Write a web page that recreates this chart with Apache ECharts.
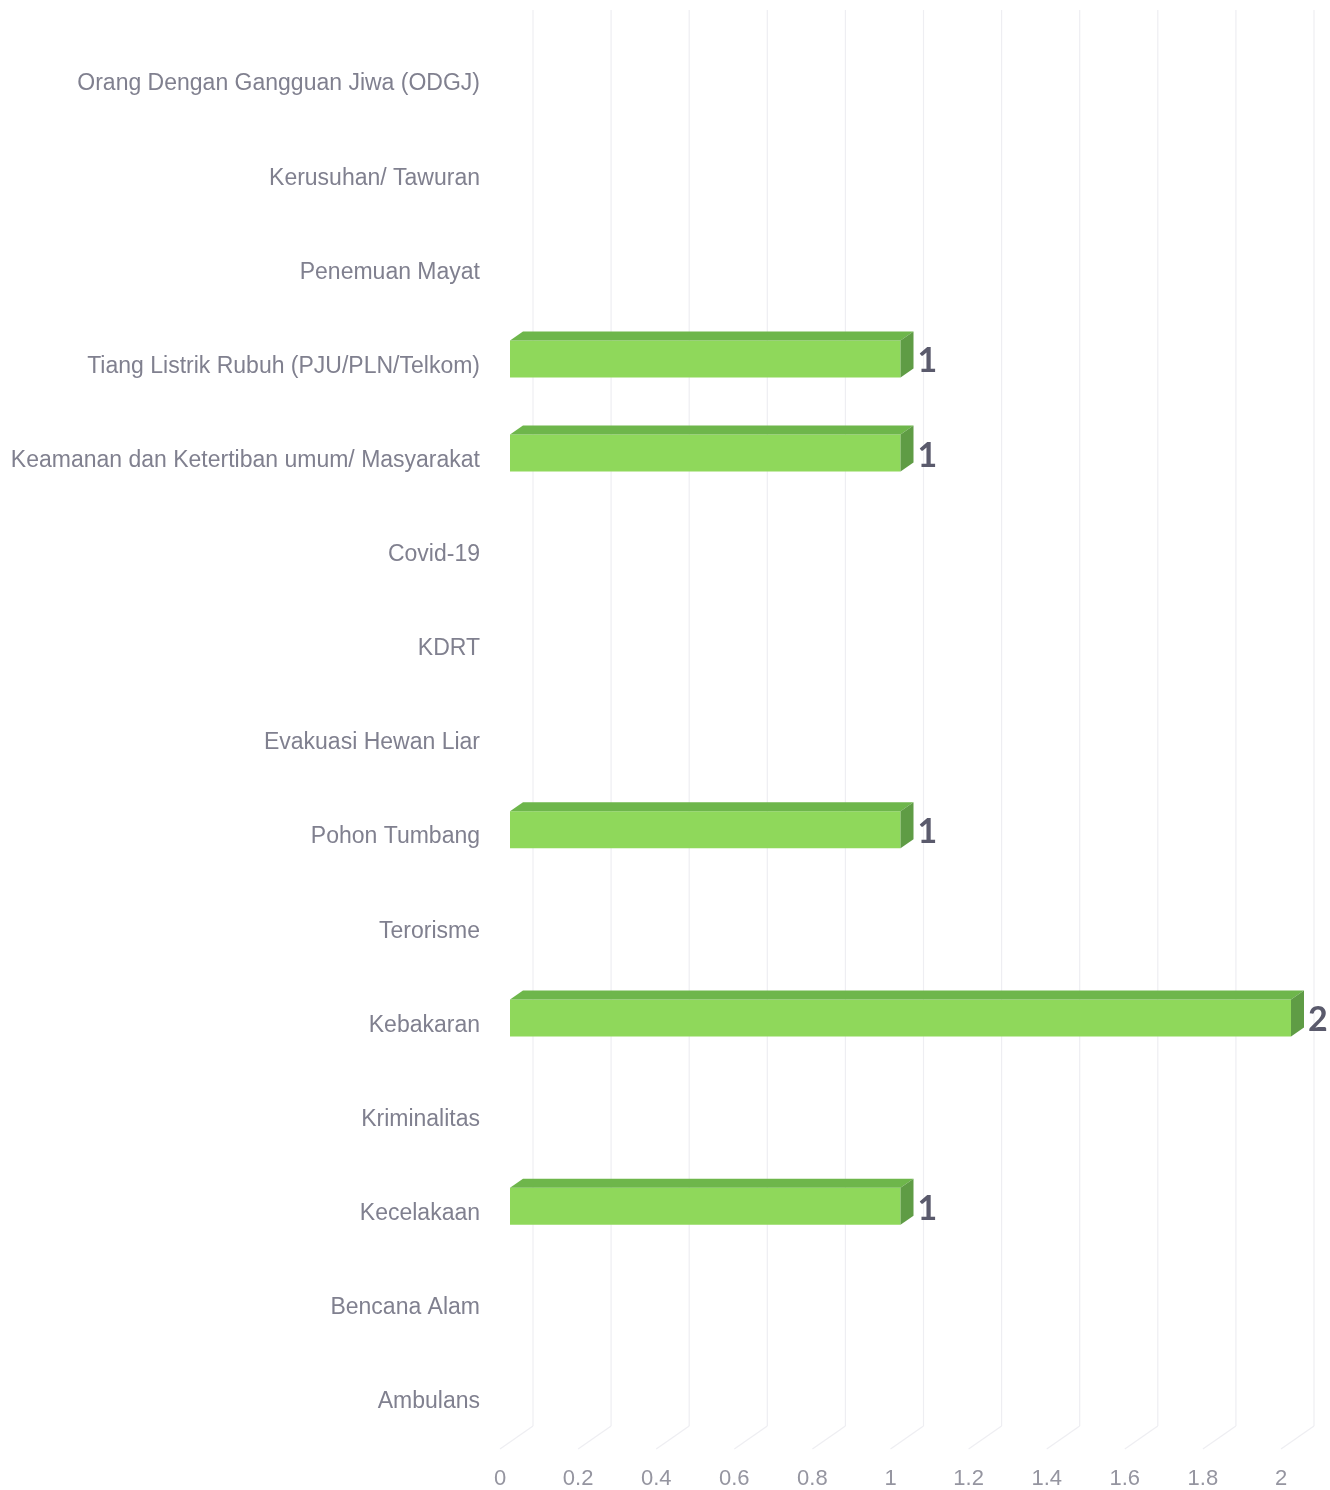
<!DOCTYPE html>
<html>
<head>
<meta charset="utf-8">
<script src="https://cdn.jsdelivr.net/npm/echarts@6/dist/echarts.min.js"></script>
<style>
  html, body { margin: 0; padding: 0; background: #fff; }
  #main { width: 1330px; height: 1490px; }
</style>
</head>
<body>
<div id="main"></div>
<script>
// kategori dari atas ke bawah
var categories = [
  'Orang Dengan Gangguan Jiwa (ODGJ)',
  'Kerusuhan/ Tawuran',
  'Penemuan Mayat',
  'Tiang Listrik Rubuh (PJU/PLN/Telkom)',
  'Keamanan dan Ketertiban umum/ Masyarakat',
  'Covid-19',
  'KDRT',
  'Evakuasi Hewan Liar',
  'Pohon Tumbang',
  'Terorisme',
  'Kebakaran',
  'Kriminalitas',
  'Kecelakaan',
  'Bencana Alam',
  'Ambulans'
];
var values = [0, 0, 0, 1, 1, 0, 0, 0, 1, 0, 2, 0, 1, 0, 0];
var xTicks = [0, 0.2, 0.4, 0.6, 0.8, 1, 1.2, 1.4, 1.6, 1.8, 2];

var chart = echarts.init(document.getElementById('main'));

// kedalaman lantai / dinding (px)
var WALL_DX = 33, WALL_DY = 23;

var option = {
  backgroundColor: '#ffffff',
  animation: false,
  grid: { left: 500, right: 49, top: 37, bottom: 40, containLabel: false },
  xAxis: {
    type: 'value',
    min: 0, max: 2, interval: 0.2,
    axisLine: { show: false },
    axisTick: { show: false },
    splitLine: { show: false },
    axisLabel: {
      margin: 19,
      color: '#9595a0',
      fontSize: 22,
      fontFamily: 'Liberation Sans'
    }
  },
  yAxis: {
    type: 'category',
    inverse: true,
    data: categories,
    axisLine: { show: false },
    axisTick: { show: false },
    splitLine: { show: false },
    axisLabel: {
      margin: 20,
      color: '#80808f',
      fontSize: 23,
      fontFamily: 'Liberation Sans'
    }
  },
  series: [
    {
      // garis dinding + lantai
      type: 'custom',
      silent: true,
      data: xTicks.map(function(v){ return [v]; }),
      encode: { x: 0 },
      renderItem: function(params, api){
        var x = api.coord([api.value(0), 0])[0];
        var cs = params.coordSys;
        var yb = cs.y + cs.height;
        var style = { stroke: '#eeeef2', lineWidth: 1.2, fill: null };
        return {
          type: 'group',
          children: [
            { type: 'line', shape: { x1: x + WALL_DX, y1: 10, x2: x + WALL_DX, y2: yb - WALL_DY }, style: style },
            { type: 'line', shape: { x1: x + WALL_DX, y1: yb - WALL_DY, x2: x, y2: yb }, style: style }
          ]
        };
      },
      z: 1
    },
    {
      // batang 3D
      type: 'custom',
      data: values.map(function(v, i){ return [v, i]; }),
      encode: { x: 0, y: 1 },
      renderItem: function(params, api){
        var v = api.value(0);
        if (!v) return;
        var p0 = api.coord([0, api.value(1)]);
        var p1 = api.coord([v, api.value(1)]);
        var x0 = p0[0] + 10, x1 = p1[0] + 10;
        var top = p0[1] - 26, bot = p0[1] + 11;
        var dx = 13, dy = 9;
        return {
          type: 'group',
          children: [
            { type: 'rect', shape: { x: x0, y: top, width: x1 - x0, height: bot - top }, style: { fill: '#8fd85b' } },
            { type: 'polygon', shape: { points: [[x0, top], [x1, top], [x1 + dx, top - dy], [x0 + dx, top - dy]] }, style: { fill: '#6eb64b' } },
            { type: 'polygon', shape: { points: [[x1, top], [x1 + dx, top - dy], [x1 + dx, bot - dy], [x1, bot]] }, style: { fill: '#5f9c45' } },
            { type: 'text', style: {
                text: String(v), x: x1 + dx + 4, y: p0[1] - 5,
                align: 'left', verticalAlign: 'middle',
                fill: '#5a5a6c', fontSize: 34, fontWeight: 'bold',
                fontFamily: 'Lato'
              } }
          ]
        };
      },
      z: 2
    }
  ]
};

chart.setOption(option);
</script>
</body>
</html>
